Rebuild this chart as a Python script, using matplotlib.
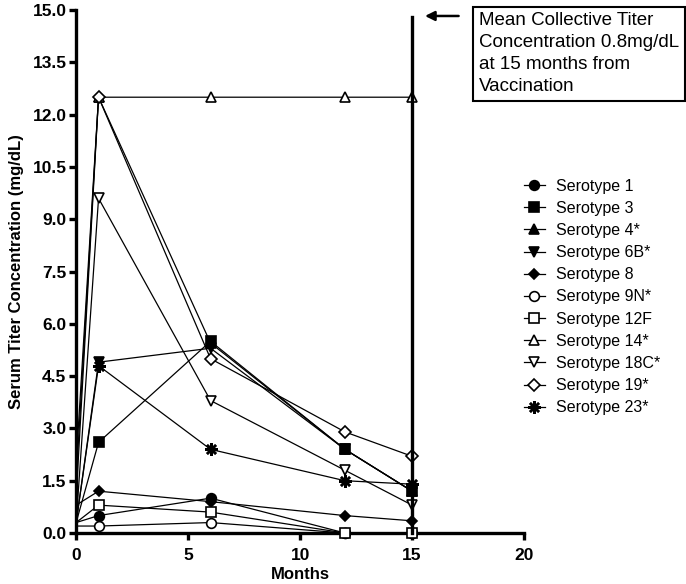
import numpy as np
import matplotlib
matplotlib.use('Agg')
import matplotlib.pyplot as plt

# months after vaccination
months = [0, 1, 6, 12, 15]

# titer values (mg/dL)
s1 = [0.3, 0.5, 1.0, 0.0, 0.0]
s3 = [0.3, 2.6, 5.5, 2.4, 1.2]
s4 = [2.0, 12.5, 5.45, 2.4, 1.2]
s6b = [0.3, 4.9, 5.3, 2.4, 1.2]
s8 = [0.8, 1.2, 0.9, 0.5, 0.35]
s9n = [0.2, 0.2, 0.3, 0.0, 0.0]
s12f = [0.3, 0.8, 0.6, 0.0, 0.0]
s14 = [1.5, 12.5, 12.5, 12.5, 12.5]
s18c = [0.3, 9.6, 3.8, 1.8, 0.8]
s19 = [1.0, 12.5, 5.0, 2.9, 2.2]
s23 = [0.3, 4.8, 2.4, 1.5, 1.4]

labels = ['Serotype 1', 'Serotype 3', 'Serotype 4*', 'Serotype 6B*', 'Serotype 8',
          'Serotype 9N*', 'Serotype 12F', 'Serotype 14*', 'Serotype 18C*',
          'Serotype 19*', 'Serotype 23*']
series = [s1, s3, s4, s6b, s8, s9n, s12f, s14, s18c, s19, s23]
# marker, filled?, size, edge width
styles = [('o', True, 7, 1.2), ('s', True, 7, 1.2), ('^', True, 7, 1.2), ('v', True, 7, 1.2),
          ('D', True, 5, 1.2), ('o', False, 7, 1.2), ('s', False, 7, 1.2), ('^', False, 7, 1.2),
          ('v', False, 7, 1.2), ('D', False, 6, 1.2), ((8, 2, 0), True, 9, 1.8)]

plt.rcParams['font.family'] = ['Liberation Sans', 'DejaVu Sans']

fig = plt.figure(figsize=(6.86, 5.84), dpi=100)
ax = fig.add_axes([0.111, 0.0873, 0.653, 0.8955])

for vals, lab, (m, filled, ms, mew) in zip(series, labels, styles):
    ax.plot(months, vals, color='black', lw=0.9, marker=m, markersize=ms,
            markevery=[1, 2, 3, 4],
            markerfacecolor='black' if filled else 'white',
            markeredgecolor='black', markeredgewidth=mew,
            label=lab, clip_on=False, zorder=3)

# 15 month line
ax.plot([15, 15], [0, 14.8], color='black', lw=2.4, zorder=4, clip_on=False)

ax.set_xlim(0, 20)
ax.set_ylim(0, 15)
ax.set_xticks([0, 5, 10, 15, 20])
ax.set_yticks(np.arange(0, 15.01, 1.5))
ax.set_yticklabels(['%.1f' % v for v in np.arange(0, 15.01, 1.5)])
for s in ['top', 'right']:
    ax.spines[s].set_visible(False)
for s in ['left', 'bottom']:
    ax.spines[s].set_linewidth(2.4)
ax.tick_params(width=2.4, length=5, labelsize=12.5)
ax.tick_params(axis='x', pad=6)
ax.tick_params(axis='y', pad=2)
for t in ax.get_xticklabels() + ax.get_yticklabels():
    t.set_fontweight('bold')
ax.set_xlabel('Months', fontsize=12, fontweight='bold', labelpad=3)
ax.set_ylabel('Serum Titer Concentration (mg/dL)', fontsize=12, fontweight='bold', labelpad=6)

leg = ax.legend(loc='upper left', bbox_to_anchor=(0.985, 0.69), frameon=False,
                fontsize=11.5, handlelength=1.3, labelspacing=0.45, handletextpad=0.7,
                borderaxespad=0)

# annotation box with arrow
fig.text(0.698, 0.979, 'Mean Collective Titer\nConcentration 0.8mg/dL\nat 15 months from\nVaccination',
         fontsize=13.5, va='top', ha='left', linespacing=1.38,
         bbox=dict(boxstyle='square,pad=0.3', fc='white', ec='black', lw=1.5))
ax.annotate('', xy=(15.45, 14.83), xytext=(17.2, 14.83),
            arrowprops=dict(arrowstyle='-|>', color='black', lw=1.8, mutation_scale=14),
            annotation_clip=False)

fig.savefig('out.png', dpi=100)
